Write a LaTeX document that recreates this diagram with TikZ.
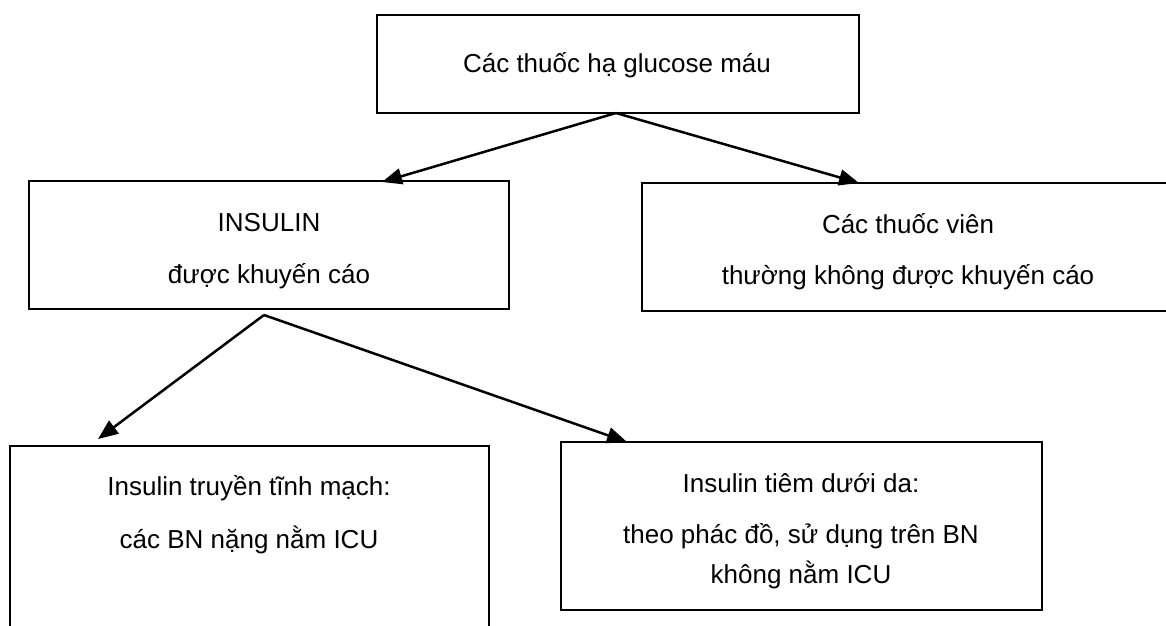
\documentclass[tikz,border=0pt]{standalone}
\usepackage{fontspec}
\setmainfont{Liberation Sans}
\usetikzlibrary{arrows.meta}
\begin{document}
\begin{tikzpicture}[x=1pt,y=-1pt,
  boxstyle/.style={draw=black, line width=2pt, rectangle, inner sep=0pt, fill=none},
  txt/.style={anchor=base, inner sep=0pt, font=\fontsize{26}{30}\selectfont},
  conn/.style={draw=black, line width=2.5pt, -{Triangle[length=20pt,width=16pt]}}]
\useasboundingbox (0,0) rectangle (1166,625);
\clip (0,0) rectangle (1166,625);
% boxes
\node[boxstyle, minimum width=482pt, minimum height=98pt] (boxTop) at (618,64) {};
\node[boxstyle, minimum width=480pt, minimum height=128pt] (boxIns) at (269,245) {};
\node[boxstyle, minimum width=533pt, minimum height=128pt] (boxPill) at (908.5,247) {};
\node[boxstyle, minimum width=479pt, minimum height=214pt] (boxIV) at (249.5,553) {};
\node[boxstyle, minimum width=481pt, minimum height=168pt] (boxSC) at (801.5,526) {};
% texts
\node[txt] (tTop) at (617,72) {Các thuốc hạ glucose máu};
\node[txt] (tIns1) at (269,231) {INSULIN};
\node[txt] (tIns2) at (269,283) {được khuyến cáo};
\node[txt] (tPill1) at (908,233) {Các thuốc viên};
\node[txt] (tPill2) at (908,284) {thường không được khuyến cáo};
\node[txt] (tIV1) at (249,495) {Insulin truyền tĩnh mạch:};
\node[txt] (tIV2) at (249,548) {các BN nặng nằm ICU};
\node[txt] (tSC1) at (801,492) {Insulin tiêm dưới da:};
\node[txt] (tSC2) at (801,543) {theo phác đồ, sử dụng trên BN};
\node[txt] (tSC3) at (801,583) {không nằm ICU};
% connector points
\coordinate (srcTop) at (616,113);
\coordinate (tipIns) at (382,182);
\coordinate (tipPill) at (859,183);
\coordinate (srcIns) at (264,315);
\coordinate (tipIV) at (98,439);
\coordinate (tipSC) at (627,442);
% connectors
\draw[conn] (srcTop) -- (tipIns);
\draw[conn] (srcTop) -- (tipPill);
\draw[conn] (srcIns) -- (tipIV);
\draw[conn] (srcIns) -- (tipSC);
\end{tikzpicture}
\end{document}
